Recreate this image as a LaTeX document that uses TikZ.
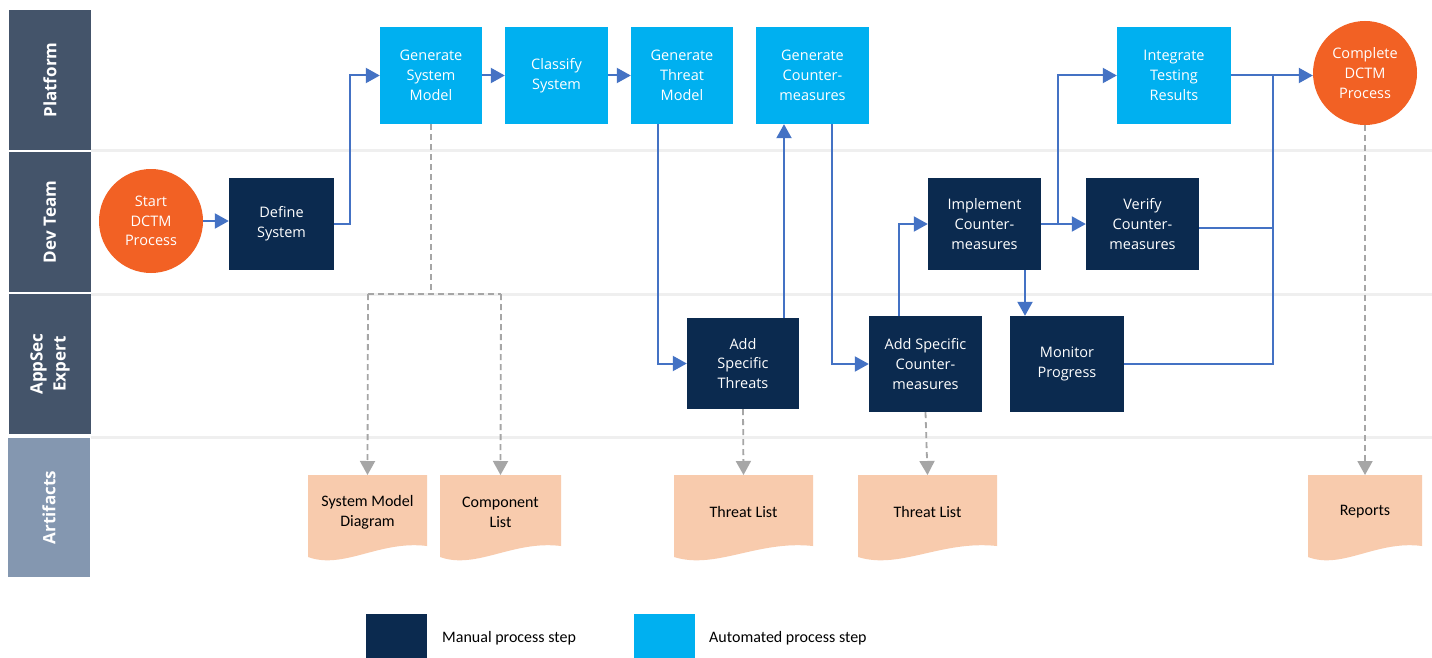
\documentclass[tikz,border=0pt]{standalone}
\usepackage{fontspec}
\setmainfont{Carlito}
\newfontfamily\osans{Open Sans}
\usetikzlibrary{arrows.meta,calc}
\definecolor{navy}{HTML}{0B2A4F}
\definecolor{skyb}{HTML}{00B0F0}
\definecolor{orng}{HTML}{F26124}
\definecolor{lanedark}{HTML}{44546A}
\definecolor{lanelight}{HTML}{8497B0}
\definecolor{peach}{HTML}{F8CBAD}
\definecolor{flowblue}{HTML}{4472C4}
\definecolor{dashgray}{HTML}{A6A6A6}
\definecolor{sepgray}{HTML}{EFEFEF}
\tikzset{
  stepbase/.style={rectangle, inner sep=0pt, text=white, align=center,
    font=\osans\fontsize{14.5}{19.7}\selectfont},
  manualstep/.style={stepbase, fill=navy},
  autostep/.style={stepbase, fill=skyb},
  terminal/.style={circle, inner sep=0pt, fill=orng, text=white, align=center,
    minimum size=104pt, font=\osans\fontsize{14.5}{19.7}\selectfont},
  lanelabel/.style={rectangle, inner sep=0pt, rotate=90, text=white, align=center,
    minimum width=140pt, minimum height=82pt,
    font=\osans\bfseries\fontsize{17}{23}\selectfont},
  arttext/.style={align=center, text=black, font=\fontsize{16}{20}\selectfont},
  flow/.style={draw=flowblue, line width=2pt, -{Triangle[length=14pt,width=15pt]}},
  flowline/.style={draw=flowblue, line width=2pt},
  gdashline/.style={draw=dashgray, line width=1.8pt, dash pattern=on 6pt off 4pt},
  gdasharrow/.style={gdashline, -{Triangle[length=14pt,width=15pt]}},
  sepline/.style={draw=sepgray, line width=3pt},
  legtext/.style={anchor=west, inner sep=0pt, text=black, font=\fontsize{16}{19}\selectfont},
}
\newcommand{\artifact}[4]{%
  \pgfmathsetmacro\wa{#2+0.3*(#3-#2)}%
  \pgfmathsetmacro\wb{#2+0.6*(#3-#2)}%
  \fill[peach] (#2,475) -- (#3,475) -- (#3,546) .. controls (\wb,540) and (\wa,570) .. (#2,557) -- cycle;
  \node[arttext] (#1) at ({(#2+#3)/2},512) {#4};
  \coordinate (#1top) at ({(#2+#3)/2},475);
}
\begin{document}
\begin{tikzpicture}[x=1pt,y=-1pt]
\useasboundingbox (0,0) rectangle (1432,658);
\fill[white] (0,0) rectangle (1432,658);

% lane separators
\draw[sepline] (91,150.5) -- (1432,150.5);
\draw[sepline] (91,294.5) -- (1432,294.5);
\draw[sepline] (91,437.5) -- (1432,437.5);

% lane labels
\node[lanelabel, fill=lanedark] (lplat) at (50,80) {Platform};
\node[lanelabel, fill=lanedark] (ldev) at (50,222) {Dev Team};
\node[lanelabel, fill=lanedark] (lapp) at (50,364) {AppSec\\Expert};
\node[lanelabel, fill=lanelight, minimum width=139pt] (lart) at (49,507.5) {Artifacts};

% process nodes
\node[terminal] (start) at (151,221) {Start\\DCTM\\Process};
\node[manualstep, minimum width=105pt, minimum height=92pt] (define) at (281.5,224) {Define\\System};
\node[autostep, minimum width=102pt, minimum height=97pt] (gsm) at (431,75.5) {Generate\\System\\Model};
\node[autostep, minimum width=103pt, minimum height=97pt] (classify) at (556.5,75.5) {Classify\\System};
\node[autostep, minimum width=102pt, minimum height=97pt] (gtm) at (682,75.5) {Generate\\Threat\\Model};
\node[autostep, minimum width=113pt, minimum height=97pt] (gc) at (812.5,75.5) {Generate\\Counter-\\measures};
\node[autostep, minimum width=114pt, minimum height=97pt] (itr) at (1174,75.5) {Integrate\\Testing\\Results};
\node[terminal] (complete) at (1365,73) {Complete\\DCTM\\Process};
\node[manualstep, minimum width=113pt, minimum height=92pt] (implement) at (984.5,224) {Implement\\Counter-\\measures};
\node[manualstep, minimum width=113pt, minimum height=92pt] (verify) at (1142.5,224) {Verify\\Counter-\\measures};
\node[manualstep, minimum width=112pt, minimum height=91pt] (ast) at (743,363.5) {Add\\Specific\\Threats};
\node[manualstep, minimum width=113pt, minimum height=96pt] (asc) at (925.5,364) {Add Specific\\Counter-\\measures};
\node[manualstep, minimum width=114pt, minimum height=96pt] (monitor) at (1067,364) {Monitor\\Progress};

% artifacts
\artifact{smd}{308}{427}{System Model\\Diagram}
\artifact{cl}{440}{561}{Component\\List}
\artifact{tlone}{674}{813}{Threat List}
\artifact{tltwo}{858}{997}{Threat List}
\artifact{rep}{1308}{1422}{Reports}

% flow connectors
\draw[flow] (start.east) -- (start.east -| define.west);
\draw[flow] (define.east) -- ++(16,0) |- (gsm.west);
\draw[flow] (gsm.east) -- (classify.west);
\draw[flow] (classify.east) -- (gtm.west);
\draw[flow] ([xshift=-24pt]gtm.south) |- (ast.west);
\draw[flow] ([xshift=41pt]ast.north) -- ([xshift=41pt]ast.north |- gc.south);
\draw[flow] ([xshift=19.5pt]gc.south) |- (asc.west);
\draw[flow] ([xshift=-26.5pt]asc.north) |- (implement.west);
\draw[flow] (implement.east) -- (verify.west);
\draw[flow] (implement.east) -- ++(17,0) |- (itr.west);
\draw[flow] ([xshift=40.5pt]implement.south) -- ([xshift=40.5pt]implement.south |- monitor.north);
\draw[flow] (itr.east) -- (itr.east -| complete.west);
\coordinate (merge) at (1273,75.5);
\draw[flowline] ([yshift=-4pt]verify.east) -| (merge);
\draw[flowline] (monitor.east) -| (merge);

% artifact connectors
\coordinate (splitL) at (368,294);
\coordinate (splitR) at (501,294);
\draw[gdashline] (gsm.south) -- (gsm.south |- splitL);
\draw[gdashline] (splitL) -- (splitR);
\draw[gdasharrow] (splitL) -- (smdtop);
\draw[gdasharrow] (splitR) -- (cltop);
\draw[gdasharrow] (ast.south) -- (tlonetop);
\draw[gdasharrow] (asc.south) -- (tltwotop);
\draw[gdasharrow] (complete.south) -- (reptop);

% legend
\fill[navy] (366,614) rectangle (427,658);
\coordinate (legman) at (442,638);
\node[legtext] (legmantext) at (legman) {Manual process step};
\fill[skyb] (634,614) rectangle (695,658);
\coordinate (legauto) at (709,638);
\node[legtext] (legautotext) at (legauto) {Automated process step};
\end{tikzpicture}
\end{document}
